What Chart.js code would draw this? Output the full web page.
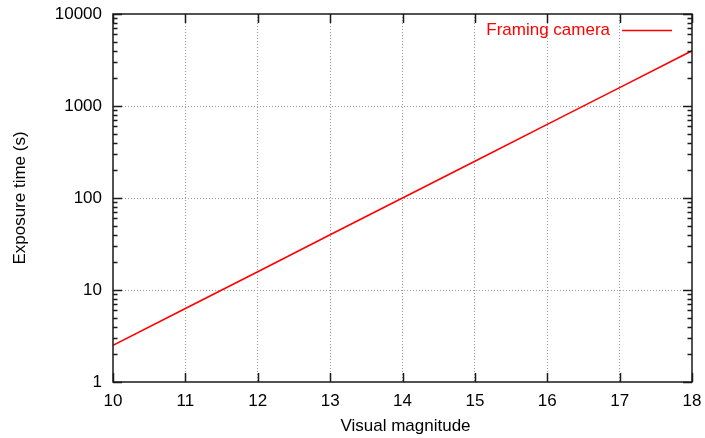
<!DOCTYPE html>
<html>
<head>
<meta charset="utf-8">
<script src="https://cdn.jsdelivr.net/npm/chart.js@4/dist/chart.umd.min.js"></script>
<style>
  html, body { margin: 0; padding: 0; background: #ffffff; }
  #wrap { width: 705px; height: 438px; }
</style>
</head>
<body>
<div id="wrap"><canvas id="c" width="705" height="438"></canvas></div>
<script>
// Exposure time needed by the framing camera for a given visual magnitude
const magnitudes = [10, 11, 12, 13, 14, 15, 16, 17, 18];
const exposureSeconds = [2.5, 6.3, 15.8, 39.8, 100, 251, 631, 1585, 3981];
const yTickValues = [1, 10, 100, 1000, 10000];
const seriesLabel = 'Framing camera';
const xTitle = 'Visual magnitude';
const yTitle = 'Exposure time (s)';

const FONT = '"Liberation Sans", Arial, Helvetica, sans-serif';
const FONT_SIZE = 17;

// Gnuplot-style frame: solid border, inward major/minor ticks, key in the corner
const framePlugin = {
  id: 'frame',
  afterDraw(chart) {
    const { ctx, chartArea: a, scales } = chart;
    const xs = scales.x, ys = scales.y;
    ctx.save();
    ctx.strokeStyle = '#1a1a1a';
    ctx.lineWidth = 1.5;
    ctx.lineCap = 'butt';
    ctx.strokeRect(a.left, a.top, a.right - a.left, a.bottom - a.top);

    const major = 9, minor = 4.5;
    ctx.beginPath();
    magnitudes.forEach(m => {
      const px = Math.round(xs.getPixelForValue(m)) + 0.5;
      ctx.moveTo(px, a.bottom); ctx.lineTo(px, a.bottom - major);
      ctx.moveTo(px, a.top); ctx.lineTo(px, a.top + major);
    });
    for (let d = 0; d < yTickValues.length; d++) {
      const base = yTickValues[d];
      const py = Math.round(ys.getPixelForValue(base)) + 0.5;
      ctx.moveTo(a.left, py); ctx.lineTo(a.left + major, py);
      ctx.moveTo(a.right, py); ctx.lineTo(a.right - major, py);
      if (d < yTickValues.length - 1) {
        for (let k = 2; k <= 9; k++) {
          const qy = Math.round(ys.getPixelForValue(base * k)) + 0.5;
          ctx.moveTo(a.left, qy); ctx.lineTo(a.left + minor, qy);
          ctx.moveTo(a.right, qy); ctx.lineTo(a.right - minor, qy);
        }
      }
    }
    ctx.stroke();

    // key
    ctx.font = FONT_SIZE + 'px ' + FONT;
    ctx.fillStyle = '#ff0000';
    ctx.textAlign = 'right';
    ctx.textBaseline = 'middle';
    ctx.fillText(seriesLabel, 610, 30);
    ctx.strokeStyle = '#ff0000';
    ctx.lineWidth = 1.5;
    ctx.beginPath();
    ctx.moveTo(622, 30.5); ctx.lineTo(672, 30.5);
    ctx.stroke();

    // axis titles
    ctx.fillStyle = '#000000';
    ctx.textAlign = 'center';
    ctx.fillText(xTitle, (a.left + a.right) / 2 + 3, 426);
    ctx.translate(20, (a.top + a.bottom) / 2);
    ctx.rotate(-Math.PI / 2);
    ctx.fillText(yTitle, 0, 0);
    ctx.restore();
  }
};

const gridColor = '#9a9a9a';

new Chart(document.getElementById('c'), {
  type: 'line',
  data: {
    datasets: [{
      label: seriesLabel,
      data: magnitudes.map((m, i) => ({ x: m, y: exposureSeconds[i] })),
      borderColor: '#ff0000',
      borderWidth: 1.6,
      pointRadius: 0,
      tension: 0,
      fill: false
    }]
  },
  options: {
    responsive: false,
    animation: false,
    devicePixelRatio: 1,
    layout: { padding: { top: 14, right: 13, left: 0, bottom: 0 } },
    plugins: { legend: { display: false }, tooltip: { enabled: false } },
    scales: {
      x: {
        type: 'linear',
        min: 10,
        max: 18,
        afterFit(s) { s.height = 56; s.paddingLeft = 0; s.paddingRight = 0; },
        afterBuildTicks(s) { s.ticks = magnitudes.map(v => ({ value: v })); },
        ticks: {
          color: '#000000',
          font: { family: FONT, size: FONT_SIZE },
          padding: 9,
          maxRotation: 0,
          callback: v => String(v)
        },
        grid: {
          color: ctx => (ctx.tick && (ctx.tick.value === 10 || ctx.tick.value === 18)) ? 'rgba(0,0,0,0)' : gridColor,
          lineWidth: 1,
          drawTicks: false,
          tickLength: 0
        },
        border: { display: false, dash: [1, 2] }
      },
      y: {
        type: 'logarithmic',
        min: 1,
        max: 10000,
        afterFit(s) { s.width = 113; s.paddingTop = 0; s.paddingBottom = 0; },
        afterBuildTicks(s) { s.ticks = yTickValues.map(v => ({ value: v })); },
        ticks: {
          color: '#000000',
          font: { family: FONT, size: FONT_SIZE },
          padding: 11,
          callback: v => String(v)
        },
        grid: {
          color: ctx => (ctx.tick && (ctx.tick.value === 1 || ctx.tick.value === 10000)) ? 'rgba(0,0,0,0)' : gridColor,
          lineWidth: 1,
          drawTicks: false,
          tickLength: 0
        },
        border: { display: false, dash: [1, 2] }
      }
    }
  },
  plugins: [framePlugin]
});
</script>
</body>
</html>
